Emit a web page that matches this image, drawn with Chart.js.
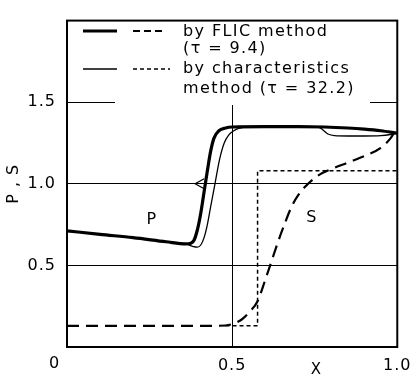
<!DOCTYPE html>
<html>
<head>
<meta charset="utf-8">
<script src="https://cdn.jsdelivr.net/npm/chart.js@4"></script>
<style>
  body { margin: 0; background: #fff; }
</style>
</head>
<body>
<canvas id="chart" width="419" height="378"></canvas>
<script>
// P by FLIC method (thick solid)
const pFlicX = [0, 0.1, 0.2, 0.3, 0.36, 0.375, 0.385, 0.395, 0.405, 0.415, 0.425, 0.435, 0.445, 0.46, 0.48, 0.5, 0.6, 0.7, 0.78, 0.85, 0.9, 0.95, 1.0];
const pFlicY = [0.712, 0.69, 0.67, 0.645, 0.632, 0.636, 0.656, 0.72, 0.82, 0.95, 1.08, 1.2, 1.28, 1.325, 1.342, 1.348, 1.35, 1.35, 1.348, 1.342, 1.335, 1.325, 1.31];

// P by characteristics method (thin solid)
const pCharX = [0, 0.1, 0.2, 0.3, 0.36, 0.38, 0.395, 0.405, 0.415, 0.425, 0.435, 0.448, 0.462, 0.476, 0.49, 0.505, 0.52, 0.54, 0.6, 0.7, 0.76, 0.775, 0.79, 0.81, 0.85, 0.9, 0.95, 0.98, 1.0];
const pCharY = [0.712, 0.69, 0.67, 0.645, 0.632, 0.617, 0.612, 0.625, 0.67, 0.75, 0.86, 1.0, 1.15, 1.25, 1.3, 1.325, 1.34, 1.348, 1.35, 1.35, 1.348, 1.33, 1.305, 1.295, 1.293, 1.293, 1.295, 1.302, 1.31];

// S by FLIC method (long dashes)
const sFlicX = [0, 0.45, 0.5, 0.53, 0.555, 0.577, 0.6, 0.62, 0.64, 0.66, 0.68, 0.7, 0.72, 0.76, 0.8, 0.85, 0.9, 0.95, 0.98, 0.99, 1.0];
const sFlicY = [0.13, 0.13, 0.14, 0.17, 0.22, 0.28, 0.41, 0.53, 0.65, 0.76, 0.86, 0.93, 0.98, 1.05, 1.09, 1.13, 1.17, 1.22, 1.28, 1.31, 1.33];

// S by characteristics method (short dashes)
const sCharX = [0.48, 0.577, 0.577, 1.0];
const sCharY = [0.13, 0.13, 1.08, 1.08];

const xTicks = [0, 0.5, 1.0];
const yTicks = [0.5, 1.0, 1.5];

const pts = (xs, ys) => xs.map((x, i) => ({ x: x, y: ys[i] }));
const FONT = '"DejaVu Sans", sans-serif';

const overlay = {
  id: 'overlay',
  beforeDraw(chart) {
    chart.ctx.letterSpacing = '1px';
  },
  beforeDatasetsDraw(chart) {
    const ctx = chart.ctx;
    // the legend block hides the grid behind it
    ctx.save();
    ctx.fillStyle = '#fff';
    ctx.fillRect(115, 20, 255, 85);
    ctx.restore();
  },
  afterDatasetsDraw(chart) {
    const ctx = chart.ctx;
    const a = chart.chartArea;
    const xs = chart.scales.x;
    const ys = chart.scales.y;
    ctx.save();
    ctx.strokeStyle = '#000';
    ctx.fillStyle = '#000';

    // frame
    ctx.lineWidth = 2;
    ctx.strokeRect(a.left, a.top, a.right - a.left, a.bottom - a.top);

    // arrow on the P curve
    const tx = xs.getPixelForValue(0.388);
    const ty = ys.getPixelForValue(1.0);
    ctx.lineWidth = 1.2;
    ctx.beginPath();
    ctx.moveTo(tx + 9, ty - 5);
    ctx.lineTo(tx, ty);
    ctx.lineTo(tx + 9, ty + 5);
    ctx.stroke();

    // legend samples
    ctx.setLineDash([]);
    ctx.lineWidth = 3;
    ctx.beginPath(); ctx.moveTo(83, 31); ctx.lineTo(117, 31); ctx.stroke();
    ctx.lineWidth = 1.3;
    ctx.beginPath(); ctx.moveTo(83, 69); ctx.lineTo(117, 69); ctx.stroke();
    ctx.lineWidth = 2.2;
    ctx.setLineDash([7, 4]);
    ctx.beginPath(); ctx.moveTo(133, 31); ctx.lineTo(163, 31); ctx.stroke();
    ctx.lineWidth = 1.4;
    ctx.setLineDash([4, 3]);
    ctx.beginPath(); ctx.moveTo(133, 69); ctx.lineTo(170, 69); ctx.stroke();
    ctx.setLineDash([]);

    // legend text
    ctx.font = '16px ' + FONT;
    ctx.letterSpacing = '1.4px';
    ctx.textBaseline = 'middle';
    ctx.textAlign = 'left';
    ctx.fillText('by FLIC method', 183, 32);
    ctx.fillText('(τ = 9.4)', 183, 49);
    ctx.fillText('by characteristics', 183, 69);
    ctx.fillText('method (τ = 32.2)', 183, 89);

    // curve labels
    ctx.font = '16px ' + FONT;
    ctx.letterSpacing = '0px';
    ctx.textAlign = 'center';
    ctx.fillText('P', xs.getPixelForValue(0.255), ys.getPixelForValue(0.78));
    ctx.fillText('S', xs.getPixelForValue(0.74), ys.getPixelForValue(0.79));

    // origin label and x axis name
    ctx.fillText('0', 54, 364);
    ctx.font = '15px ' + FONT;
    ctx.fillText('X', 316, 370);
    ctx.restore();
  }
};

const gridColor = (c) => (c.tick && [0.5, 1.0, 1.5].includes(c.tick.value) ? '#000' : 'rgba(0,0,0,0)');

new Chart(document.getElementById('chart').getContext('2d'), {
  type: 'line',
  data: {
    datasets: [
      {
        label: 'P by FLIC method',
        data: pts(pFlicX, pFlicY),
        borderColor: '#000',
        borderWidth: 3.2,
        cubicInterpolationMode: 'monotone'
      },
      {
        label: 'P by characteristics method',
        data: pts(pCharX, pCharY),
        borderColor: '#000',
        borderWidth: 1.3,
        cubicInterpolationMode: 'monotone'
      },
      {
        label: 'S by FLIC method',
        data: pts(sFlicX, sFlicY),
        borderColor: '#000',
        borderWidth: 2.2,
        borderDash: [12, 7],
        cubicInterpolationMode: 'monotone'
      },
      {
        label: 'S by characteristics method',
        data: pts(sCharX, sCharY),
        borderColor: '#000',
        borderWidth: 1.5,
        borderDash: [4, 3],
        tension: 0
      }
    ]
  },
  options: {
    responsive: false,
    animation: false,
    devicePixelRatio: 1,
    layout: { padding: { top: 6, right: 14, left: 0, bottom: 0 } },
    elements: { point: { radius: 0 } },
    plugins: {
      legend: { display: false },
      tooltip: { enabled: false }
    },
    scales: {
      x: {
        type: 'linear',
        min: 0,
        max: 1,
        afterFit: (s) => { s.height = 31; },
        afterBuildTicks: (s) => { s.ticks = xTicks.map(v => ({ value: v })); },
        ticks: {
          padding: 9,
          maxRotation: 0,
          color: '#000',
          font: { family: FONT, size: 16 },
          callback: (v) => (v === 0 ? '' : v.toFixed(1))
        },
        grid: { drawTicks: false, color: gridColor, lineWidth: 1 },
        border: { display: false }
      },
      y: {
        min: 0,
        max: 2,
        afterFit: (s) => { s.width = 67; },
        afterBuildTicks: (s) => { s.ticks = [0].concat(yTicks, [2]).map(v => ({ value: v })); },
        ticks: {
          padding: 11,
          color: '#000',
          font: { family: FONT, size: 16 },
          callback: (v) => (yTicks.includes(v) ? v.toFixed(1) : '')
        },
        grid: { drawTicks: false, color: gridColor, lineWidth: 1 },
        border: { display: false },
        title: {
          display: true,
          text: 'P , S',
          color: '#000',
          font: { family: FONT, size: 16 },
          padding: { top: 4, bottom: 0 }
        }
      }
    }
  },
  plugins: [overlay]
});
</script>
</body>
</html>
